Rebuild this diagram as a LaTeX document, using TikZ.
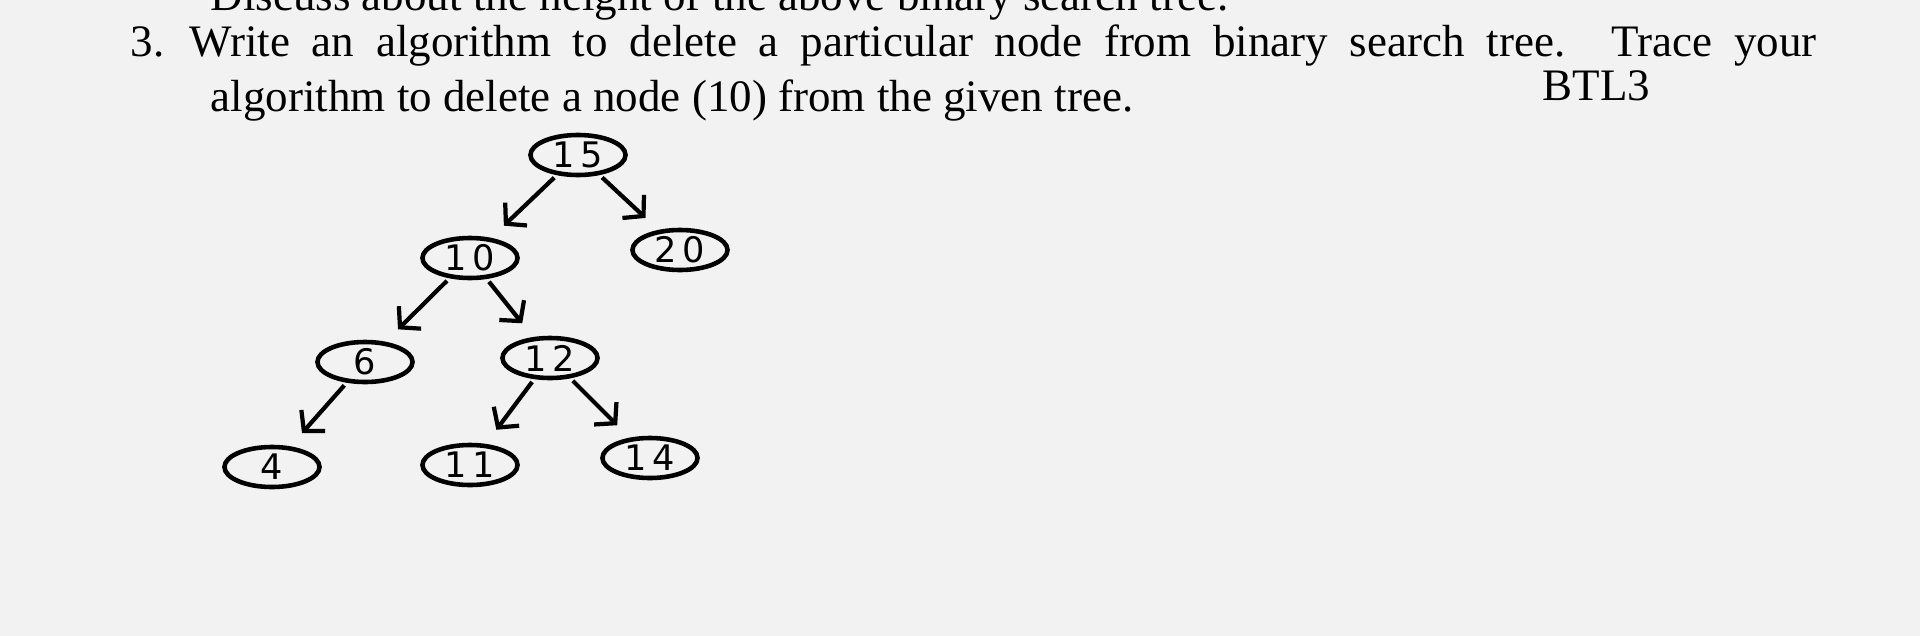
\documentclass[tikz,border=0pt]{standalone}
\usepackage{fontspec}
\setmainfont{Liberation Serif}
\newfontfamily\digitfont{DejaVu Sans}
\usetikzlibrary{shapes.geometric,arrows.meta}
\begin{document}
\begin{tikzpicture}[x=0.01cm,y=-0.01cm,
  bst/.style={ellipse,draw,line width=1.3pt,minimum width=0.95cm,minimum height=0.4cm,inner sep=0pt,font=\digitfont\fontsize{10}{10}\selectfont},
  edge/.style={line width=1.2pt,-{Straight Barb[length=4pt,width=9pt,line width=1.2pt]},shorten <=1pt,shorten >=5pt}]
\fill[gray!10] (0,0) rectangle (1920,636);
\clip (0,0) rectangle (1920,636);
\useasboundingbox (0,0) rectangle (1920,636);
\node[anchor=base west,inner sep=0,font=\fontsize{12.8}{15}\selectfont] (top) at (210,10) {Discuss about the height of the above binary search tree.};
\node[anchor=north west,inner sep=0,text width=16.85cm,align=justify,font=\fontsize{12.8}{15.6}\selectfont] (q) at (130,24)
 {\hangindent=0.8cm\hangafter=1 3.\hspace{0.25cm}Write an algorithm to delete a particular node from binary search tree. Trace your\linebreak algorithm to delete a node (10) from the given tree.\par};
\node[anchor=base west,inner sep=0,font=\fontsize{12.8}{15}\selectfont] (btl) at (1542,100) {BTL3};
\node[bst] (n15) at (578,155) {1\,5};
\node[bst] (n10) at (470,258) {1\,0};
\node[bst] (n20) at (680,250) {2\,0};
\node[bst] (n6) at (365,362) {6};
\node[bst] (n12) at (550,358) {1\,2};
\node[bst] (n4) at (272,467) {4};
\node[bst] (n11) at (470,465) {1\,1};
\node[bst] (n14) at (650,458) {1\,4};
\draw[edge] (n15) -- (n10);
\draw[edge] (n15) -- (n20);
\draw[edge] (n10) -- (n6);
\draw[edge] (n10) -- (n12);
\draw[edge] (n6) -- (n4);
\draw[edge] (n12) -- (n11);
\draw[edge] (n12) -- (n14);
\end{tikzpicture}
\end{document}
